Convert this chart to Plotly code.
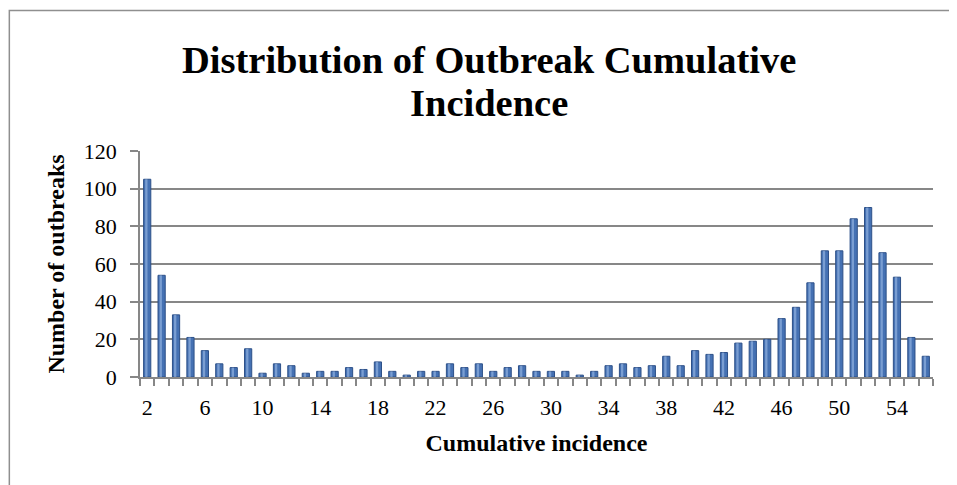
import plotly.graph_objects as go

# Data
cumulative_incidence = list(range(2, 57))
number_of_outbreaks = [
    105, 54, 33, 21, 14, 7, 5, 15, 2, 7,      # 2-11
    6, 2, 3, 3, 5, 4, 8, 3, 1, 3,             # 12-21
    3, 7, 5, 7, 3, 5, 6, 3, 3, 3,             # 22-31
    1, 3, 6, 7, 5, 6, 11, 6, 14, 12,          # 32-41
    13, 18, 19, 20, 31, 37, 50, 67, 67, 84,   # 42-51
    90, 66, 53, 21, 11,                       # 52-56
]
x_tick_values = list(range(2, 57, 4))
y_tick_values = [0, 20, 40, 60, 80, 100, 120]

title_lines = ["Distribution of Outbreak Cumulative", "Incidence"]
x_title = "Cumulative incidence"
y_title = "Number of outbreaks"

# The html page has an 8px body margin; lay out in page pixels and shift.
OFF = 8
PAGE_W, PAGE_H = 957, 485
W, H = PAGE_W - OFF, PAGE_H - OFF
plot_left, plot_right, plot_top, plot_bottom = 139.5, 933, 150.5, 377.5  # page px
L = plot_left - OFF
R = PAGE_W - plot_right
T = plot_top - OFF
B = PAGE_H - plot_bottom

pw = W - L - R
ph = H - T - B


def px_x(page_x):
    return (page_x - OFF - L) / pw


def px_y(page_y):
    return (H - B - (page_y - OFF)) / ph


fig = go.Figure()
fig.add_trace(go.Bar(
    x=cumulative_incidence, y=number_of_outbreaks, width=0.5,
    marker=dict(color="#4571b3", line=dict(color="#2d5088", width=1)),
    name="Outbreaks", showlegend=False,
))
# glossy highlight strip inside each bar
fig.add_trace(go.Bar(
    x=cumulative_incidence, y=number_of_outbreaks, width=0.16, offset=-0.14,
    marker=dict(color="rgba(165,195,235,0.55)", line=dict(width=0)),
    hoverinfo="skip", showlegend=False,
))

axis_color = "#878787"
fig.update_layout(
    width=W, height=H,
    barmode="overlay",
    paper_bgcolor="white", plot_bgcolor="white",
    margin=dict(l=L, r=R, t=T, b=B, pad=0, autoexpand=False),
    font=dict(family="Liberation Serif, DejaVu Serif, serif", color="black"),
    xaxis=dict(
        range=[1.5, 56.5], tickmode="array", tickvals=x_tick_values,
        ticks="", ticklen=0, showgrid=False, zeroline=False,
        showline=True, linecolor=axis_color, linewidth=1.5,
        tickfont=dict(size=22), ticklabelstandoff=10,
        minor=dict(tick0=1.5, dtick=1, ticks="outside", ticklen=7,
                   tickcolor=axis_color, tickwidth=1.5, showgrid=False),
        title=dict(text=x_title, font=dict(size=24, weight="bold"), standoff=15),
    ),
    yaxis=dict(
        range=[0, 120], tickmode="array", tickvals=y_tick_values,
        ticks="outside", ticklen=8, tickcolor=axis_color, tickwidth=1.5,
        showgrid=True, gridcolor=axis_color, gridwidth=1.5,
        zeroline=False, showline=True, linecolor=axis_color, linewidth=1.5,
        tickfont=dict(size=22), ticklabelstandoff=9,
        title=dict(text=y_title, font=dict(size=24, weight="bold"), standoff=12),
    ),
)

# Title as two centred lines
for line, cy in zip(title_lines, [59, 102]):
    fig.add_annotation(
        text=line, xref="paper", yref="paper",
        x=px_x(489), y=px_y(cy), xanchor="center", yanchor="middle",
        showarrow=False,
        font=dict(size=38.5, family="Liberation Serif, serif", weight="bold", color="black"),
    )

# chart frame (left and top edges visible in the reference)
fig.add_shape(type="rect", xref="paper", yref="paper",
              x0=px_x(OFF + 0.75), x1=px_x(990), y0=px_y(520), y1=px_y(9.5),
              line=dict(color="#8f8f8f", width=1.5), layer="below")

fig.write_html("out.html")
